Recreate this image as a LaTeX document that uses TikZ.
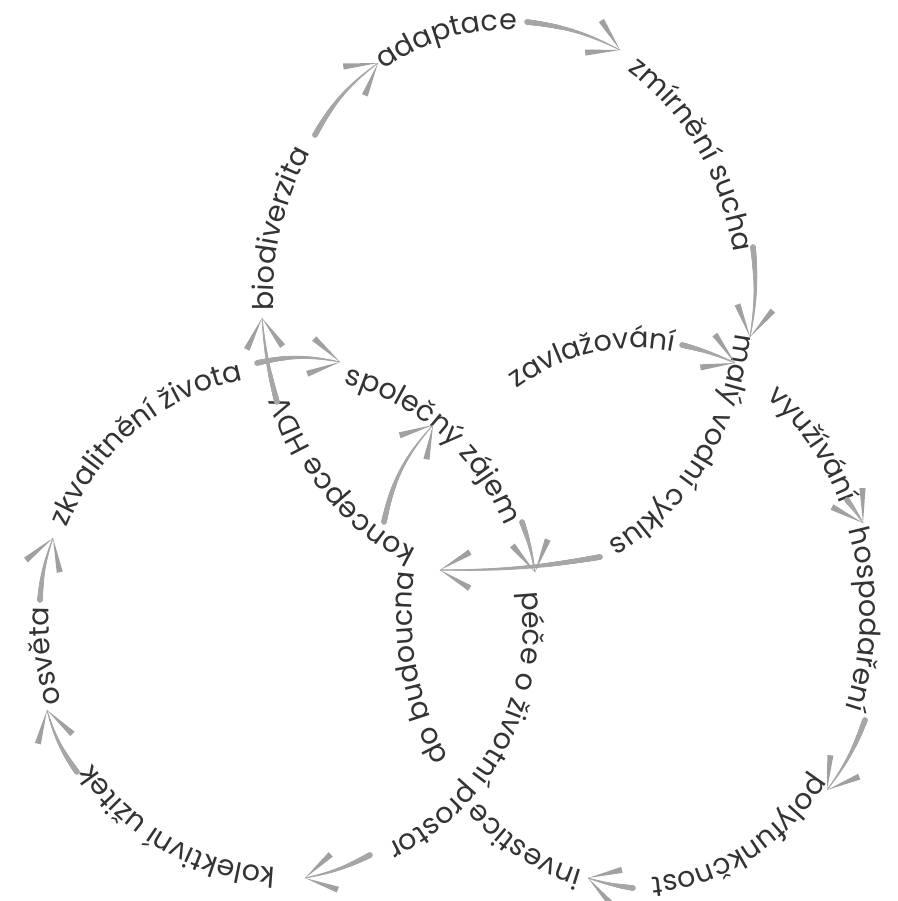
\documentclass[tikz,border=0pt]{standalone}
\usepackage{fontspec}
\setmainfont{Poppins}
\usetikzlibrary{decorations.text,decorations.markings,calc}
\definecolor{txt}{HTML}{333333}
\definecolor{agray}{HTML}{A6A6A6}
\definecolor{bgray}{HTML}{A0A0A0}
\newcommand{\lblfont}{\fontsize{28.5}{32}\selectfont}
% #1 centre, #2 rx, #3 ry, #4 mid angle, #5 text
\newcommand{\arclabel}[5]{%
  \path[decorate,decoration={text along path,text align=center,text color=txt,
    text={|\lblfont|#5}}]
    ($(#1)+({#4-60}:#2 and #3)$) arc[start angle={#4-60},end angle={#4+60},x radius=#2,y radius=#3];}
\tikzset{
  tarrow/.style={decorate,decoration={markings,
    mark=between positions 0 and 1 step 0.5pt with {%
      \pgfmathsetmacro\rr{2.8-2.3*\pgfkeysvalueof{/pgf/decoration/mark info/distance from start}/\pgfdecoratedpathlength}%
      \fill[agray] (0,0) circle[radius=\rr pt];}}}
}
% arrow head at #1 (tip), coming from #2, with bend #3
\newcommand{\ahead}[3]{%
  \pgfmathsetmacro\aA{-#3+26}\pgfmathsetmacro\aB{-#3+36}%
  \pgfmathsetmacro\aC{-#3-26}\pgfmathsetmacro\aD{-#3-36}%
  \fill[bgray] (#1) -- ($(#1)!35pt!\aA:(#2)$) -- ($(#1)!35pt!\aB:(#2)$) -- cycle;
  \fill[bgray] (#1) -- ($(#1)!35pt!\aC:(#2)$) -- ($(#1)!35pt!\aD:(#2)$) -- cycle;}
\newcommand{\tarr}[3]{%
  \path[tarrow] (#1) to[bend left=#3] (#2);
  \ahead{#2}{#1}{#3}}
\begin{document}
\begin{tikzpicture}[x=1pt,y=-1pt]
\useasboundingbox (0,0) rectangle (897,901);
\fill[white] (0,0) rectangle (897,901);
\coordinate (T) at (505,300);
\coordinate (L) at (286,622);
\coordinate (R) at (636,613);
% top circle
\arclabel{T}{232}{270}{197}{biodiverzita}
\arclabel{T}{232}{270}{257}{adaptace}
\arclabel{T}{232}{270}{323.5}{zmírnění sucha}
\arclabel{T}{232}{270}{37.6}{malý vodní cyklus}
\arclabel{T}{232}{270}{133.5}{koncepce HDV}
% left circle
\arclabel{L}{237}{246}{172}{osvěta}
\arclabel{L}{237}{246}{231.6}{zkvalitnění života}
\arclabel{L}{237}{246}{310}{společný zájem}
\arclabel{L}{237}{246}{29.3}{péče o životní prostor}
\arclabel{L}{237}{246}{118.2}{kolektivní užitek}
% right circle
\arclabel{R}{224}{265}{259.8}{zavlažování}
\arclabel{R}{224}{265}{317.5}{využívání}
\arclabel{R}{224}{265}{1.5}{hospodaření}
\arclabel{R}{224}{265}{64}{polyfunkčnost}
\arclabel{R}{224}{265}{116.5}{investice}
\arclabel{R}{224}{265}{166.5}{do budoucna}
% arrow end points
\coordinate (a1s) at (315,135);  \coordinate (a1e) at (378,63);
\coordinate (a2s) at (527,22);   \coordinate (a2e) at (620,50);
\coordinate (a3s) at (753,247);  \coordinate (a3e) at (750,337);
\coordinate (a4s) at (600,557);  \coordinate (a4e) at (440,570);
\coordinate (a5s) at (277,402);  \coordinate (a5e) at (262,318);
\coordinate (a6s) at (257,363);  \coordinate (a6e) at (340,362);
\coordinate (a7s) at (522,522);  \coordinate (a7e) at (535,572);
\coordinate (a8s) at (370,855);  \coordinate (a8e) at (305,878);
\coordinate (a9s) at (77,772);   \coordinate (a9e) at (47,710);
\coordinate (a10s) at (40,600);  \coordinate (a10e) at (53,538);
\coordinate (a11s) at (384,522); \coordinate (a11e) at (433,425);
\coordinate (a12s) at (682,345); \coordinate (a12e) at (735,363);
\coordinate (a13s) at (847,500); \coordinate (a13e) at (863,523);
\coordinate (a14s) at (865,720); \coordinate (a14e) at (827,790);
\coordinate (a15s) at (633,888); \coordinate (a15e) at (588,878);
% arrows
\tarr{a1s}{a1e}{12}
\tarr{a2s}{a2e}{10}
\tarr{a3s}{a3e}{8}
\tarr{a4s}{a4e}{5}
\tarr{a5s}{a5e}{5}
\tarr{a6s}{a6e}{12}
\tarr{a7s}{a7e}{5}
\tarr{a8s}{a8e}{8}
\tarr{a9s}{a9e}{10}
\tarr{a10s}{a10e}{8}
\tarr{a11s}{a11e}{15}
\tarr{a12s}{a12e}{5}
\tarr{a13s}{a13e}{3}
\tarr{a14s}{a14e}{8}
\tarr{a15s}{a15e}{5}
\end{tikzpicture}
\end{document}
